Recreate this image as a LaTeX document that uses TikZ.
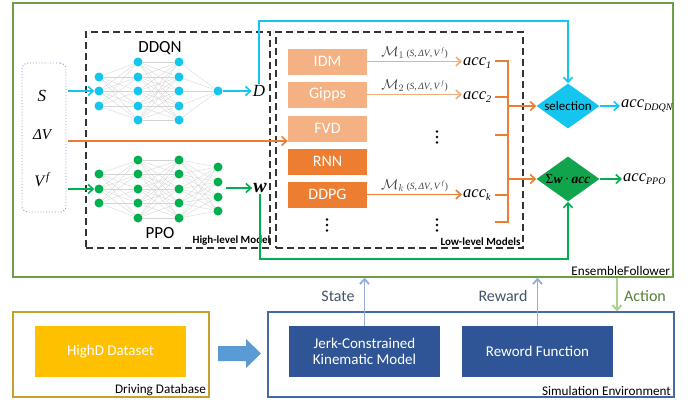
\documentclass[tikz,border=0pt]{standalone}
\usepackage{fontspec}
\setmainfont{Carlito}
\newfontfamily\tms{Liberation Serif}
\usetikzlibrary{shapes.geometric,arrows.meta,calc}

\definecolor{cy}{HTML}{14C6EE}
\definecolor{gn}{HTML}{00B050}
\definecolor{dgn}{HTML}{10A54C}
\definecolor{org}{HTML}{ED7D31}
\definecolor{lorg}{HTML}{F4B183}
\definecolor{olive}{HTML}{6E9C48}
\definecolor{gold}{HTML}{C9A02A}
\definecolor{amber}{HTML}{FFC000}
\definecolor{navy}{HTML}{2F5597}
\definecolor{envblue}{HTML}{4468AA}
\definecolor{skyarrow}{HTML}{5B9BD5}
\definecolor{paleblue}{HTML}{95AEDD}
\definecolor{palegreen}{HTML}{A9D18E}
\definecolor{slate}{HTML}{44546A}
\definecolor{actgreen}{HTML}{548235}
\definecolor{edgegray}{HTML}{D4D4D4}
\definecolor{dotblue}{HTML}{7F9DCC}

\tikzset{
  fs/.style={font=\fontsize{#1}{#1}\selectfont},
  neuronC/.style={circle, fill=cy, inner sep=0pt, minimum size=9pt},
  neuronG/.style={circle, fill=gn, inner sep=0pt, minimum size=9pt},
  nnedge/.style={draw=edgegray, line width=0.35pt},
  dashbox/.style={draw=black!80, dash pattern=on 7pt off 4pt, line width=1.2pt, inner sep=0pt},
  modelbox/.style={minimum width=79pt, minimum height=26pt, inner sep=0pt, text=white, font=\fontsize{16}{18}\selectfont},
  barb/.style={-{Straight Barb[length=5pt,width=9pt]}},
  flow/.style={barb, line width=1.6pt},
  mathlbl/.style={font=\tms\itshape\fontsize{16.5}{18}\selectfont, inner sep=1pt},
  blockbox/.style={minimum width=151pt, minimum height=51pt, inner sep=0pt, text=white, align=center, font=\fontsize{15}{17}\selectfont},
  cornerlbl/.style={anchor=south east, inner sep=1.5pt, font=\fontsize{13.2}{15}\selectfont},
  levellbl/.style={anchor=south east, inner sep=1pt, font=\bfseries\fontsize{11}{12}\selectfont},
  decide/.style={diamond, inner sep=0pt, minimum width=63pt, minimum height=45pt},
  vdot/.style={circle, fill=black, inner sep=0pt, minimum size=2.8pt},
  argslbl/.style={midway, above=-1.5pt, text=black!75, font=\fontsize{14}{15}\selectfont}
}

\newcommand{\accsub}[1]{{\tms\itshape acc\raisebox{-3.5pt}{\fontsize{10}{11}\selectfont #1}}}
\newcommand{\mapargs}[1]{$\mathcal{M}_{#1}$\,{\tms\fontsize{9.5}{10}\selectfont(\textit{S},\,\textit{ΔV},\,\textit{V}\textsuperscript{\,\textit{f}})}}
% vertical ellipsis made of three dots, centred on a named point
\newcommand{\dotcolumn}[2]{%
  \coordinate (#1) at #2;
  \node[vdot] at ($(#1)+(0,-5.5)$) {};
  \node[vdot] at (#1) {};
  \node[vdot] at ($(#1)+(0,5.5)$) {};}

\begin{document}
\begin{tikzpicture}[x=1pt, y=-1pt]
\useasboundingbox (0,0) rectangle (697,402);

% ---------------- EnsembleFollower frame ----------------
\node[draw=olive, line width=1.3pt, minimum width=660pt, minimum height=274pt, inner sep=0pt] (ef) at (343,140) {};
\node[cornerlbl, xshift=-2pt] at (ef.south east) {EnsembleFollower};

% high-level and low-level dashed frames
\node[dashbox, minimum width=184pt, minimum height=216pt] (hl) at (178,140) {};
\node[dashbox, minimum width=247pt, minimum height=216pt] (ll) at (399.5,140) {};
\node[levellbl] at ($(hl.south east)+(1,-2)$) {High-level Model};
\node[levellbl] at ($(ll.south east)+(-2,-2)$) {Low-level Models};

% ---------------- state inputs ----------------
\node[draw=dotblue, dotted, line width=0.9pt, rounded corners=6pt, minimum width=44pt, minimum height=149pt, inner sep=0pt] (inbox) at (44,137.5) {};
\node[font=\tms\itshape\fontsize{17}{18}\selectfont] (inS) at (42,96) {S};
\node[font=\tms\itshape\fontsize{15}{18}\selectfont] (inDV) at (42,135) {ΔV};
\node[font=\tms\itshape\fontsize{16}{18}\selectfont] (inVf) at (42,180) {V\textsuperscript{\,\textit{f}}};

% ---------------- DDQN network ----------------
\foreach \y [count=\i] in {77,91,106} \node[neuronC] (d1-\i) at (99,\y) {};
\foreach \y [count=\i] in {62,77,91,106,120} \node[neuronC] (d2-\i) at (138,\y) {};
\foreach \y [count=\i] in {62,77,91,106,120} \node[neuronC] (d3-\i) at (179,\y) {};
\node[neuronC] (d4-1) at (218,91) {};
\foreach \i in {1,...,3} \foreach \j in {1,...,5} \draw[nnedge] (d1-\i) -- (d2-\j);
\foreach \i in {1,...,5} \foreach \j in {1,...,5} \draw[nnedge] (d2-\i) -- (d3-\j);
\foreach \i in {1,...,5} \draw[nnedge] (d3-\i) -- (d4-1);
\node[fs=17] (ddqn) at (160,48) {DDQN};

% ---------------- PPO network ----------------
\foreach \y [count=\i] in {174,189,203} \node[neuronG] (p1-\i) at (99,\y) {};
\foreach \y [count=\i] in {160,174,189,203,218} \node[neuronG] (p2-\i) at (138,\y) {};
\foreach \y [count=\i] in {160,174,189,203,218} \node[neuronG] (p3-\i) at (179,\y) {};
\foreach \y [count=\i] in {167,182,197,211} \node[neuronG] (p4-\i) at (218,\y) {};
\foreach \i in {1,...,3} \foreach \j in {1,...,5} \draw[nnedge] (p1-\i) -- (p2-\j);
\foreach \i in {1,...,5} \foreach \j in {1,...,5} \draw[nnedge] (p2-\i) -- (p3-\j);
\foreach \i in {1,...,5} \foreach \j in {1,...,4} \draw[nnedge] (p3-\i) -- (p4-\j);
\node[fs=17] (ppo) at (160,233) {PPO};

% network outputs
\node[mathlbl, font=\tms\itshape\fontsize{17}{18}\selectfont] (D) at (259,91) {D};
\node[inner sep=1pt, font=\tms\bfseries\itshape\fontsize{20}{20}\selectfont] (w) at (260,188) {w};

% input arrows
\draw[flow, cy, shorten <=2pt] (inbox.east |- d1-2) -- (d1-2);
\draw[flow, gn, shorten <=2pt] (inbox.east |- p1-2) -- (p1-2);
\draw[flow, cy] (d4-1) -- (D);
\draw[flow, gn, shorten <=3pt] (p4-2.east |- w) -- (w);

% ---------------- low-level models ----------------
\node[modelbox, fill=lorg] (idm) at (327.5,61.5) {IDM};
\node[modelbox, fill=lorg] (gipps) at (327.5,94.5) {Gipps};
\node[modelbox, fill=lorg] (fvd) at (327.5,128.5) {FVD};
\node[modelbox, fill=org] (rnn) at (327.5,161.5) {RNN};
\node[modelbox, fill=org] (ddpg) at (327.5,194.5) {DDPG};
\dotcolumn{mdots}{(327,225)}

% relative-speed input into the model bank
\coordinate (dvstart) at (68,141);
\draw[flow, org] (dvstart) -- (fvd.west |- dvstart);

% model outputs
\node[mathlbl, anchor=west] (acc1) at (462,63) {\accsub{1}};
\node[mathlbl, anchor=west] (acc2) at (462,97) {\accsub{2}};
\node[mathlbl, anchor=west] (acck) at (462,195) {\accsub{k}};
\dotcolumn{adots1}{(437,137)}
\dotcolumn{adots2}{(437,225)}

\draw[flow, lorg!90!org] (idm.east) -- (acc1.west |- idm.east) node[argslbl] {\mapargs{1}};
\draw[flow, lorg!90!org] (gipps.east) -- (acc2.west |- gipps.east) node[argslbl] {\mapargs{2}};
\draw[flow, org] (ddpg.east) -- (acck.west |- ddpg.east) node[argslbl] {\mapargs{k}};

% collecting bracket
\draw[org, line width=2pt] (495,61) -- (508,61) -- (508,222) -- (495,222);
\foreach \y in {97,135,195} \draw[org, line width=2pt] (495,\y) -- (508,\y);

% ---------------- decision stages ----------------
\node[decide, fill=cy, label={[fs=13]center:selection}] (sel) at (568,106) {};
\node[decide, fill=dgn, label={[font=\tms\fontsize{13.5}{15}\selectfont]center:Σ\textbf{\textit{w}}\,·\,\textbf{\textit{acc}}}] (sum) at (568,179) {};
\coordinate (bsel) at (508,106);
\coordinate (bsum) at (508,179);
\draw[flow, org] (bsel) -- (sel.west);
\draw[flow, org] (bsum) -- (sum.west);

\node[mathlbl, anchor=west] (accd) at (620,106) {\accsub{DDQN}};
\node[mathlbl, anchor=west] (accp) at (622,179) {\accsub{PPO}};
\draw[flow, cy] (sel.east) -- (accd.west);
\draw[flow, gn] (sum.east) -- (accp.west);

% high-level outputs routed to the decision stages
\coordinate (cyturn) at (568,21);
\coordinate (gnturn) at (568,259);
\draw[flow, cy] (D.north) |- (cyturn) -- (sel.north);
\draw[flow, gn] (w.south) |- (gnturn) -- (sum.south);

% ---------------- driving database ----------------
\node[draw=gold, line width=1.1pt, minimum width=196pt, minimum height=85pt, inner sep=0pt] (db) at (111,354.5) {};
\node[blockbox, fill=amber] (highd) at (110.5,351.5) {HighD Dataset};
\node[cornerlbl, xshift=-2pt] at (db.south east) {Driving Database};

% data flow into the simulator
\fill[skyarrow] (218,346) -- (246,346) -- (246,339) -- (261,353.5) -- (246,368) -- (246,361) -- (218,361) -- cycle;

% ---------------- simulation environment ----------------
\node[draw=envblue, line width=1.2pt, minimum width=406pt, minimum height=85pt, inner sep=0pt] (env) at (471,354.5) {};
\node[blockbox, fill=navy] (jerk) at (364.5,351.5) {Jerk-Constrained\\[-1pt]Kinematic Model};
\node[blockbox, fill=navy] (rew) at (537.5,351.5) {Reword Function};
\node[cornerlbl, xshift=-2pt] at (env.south east) {Simulation Environment};

% interaction between simulator and agent
\draw[flow, paleblue, line width=1.9pt] (jerk.north) -- (jerk.north |- ef.south);
\draw[flow, paleblue, line width=1.9pt] (rew.north) -- (rew.north |- ef.south);
\coordinate (act) at (617,278);
\draw[flow, palegreen, line width=1.9pt] (act) -- (act |- env.north);
\node[fs=16, text=slate] (statelbl) at (338,296) {State};
\node[fs=16, text=slate] (rewlbl) at (503,296) {Reward};
\node[fs=16, text=actgreen] (actlbl) at (645,296) {Action};

\end{tikzpicture}
\end{document}
